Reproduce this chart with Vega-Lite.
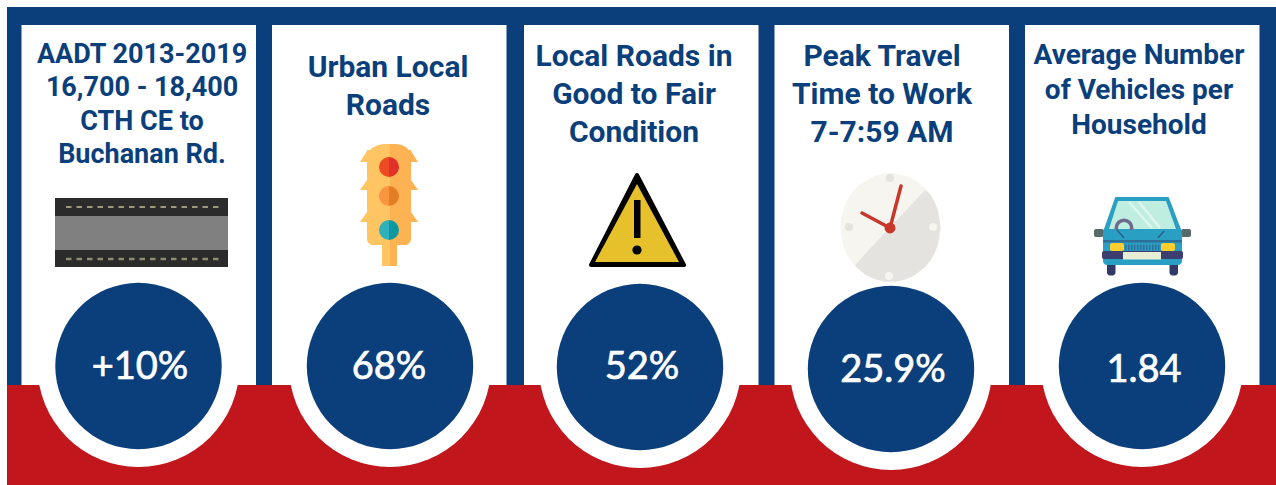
{"$schema":"https://vega.github.io/schema/vega-lite/v6.json","autosize":{"type":"fit","contains":"padding"},"width":1276,"height":485,"padding":0,"background":"white","config":{"view":{"stroke":null}},
"encoding":{"x":{"field":"x","type":"quantitative","scale":{"domain":[0,1276],"nice":false,"zero":false},"axis":null},"y":{"field":"y","type":"quantitative","scale":{"domain":[485,0],"nice":false,"zero":false},"axis":null}},
"layer":[
{"data":{"values":[{"part":"frame","x":7,"x2":1276,"y":7,"y2":385}]},"mark":{"type":"rect","color":"#0b3f7b"},"encoding":{"x2":{"field":"x2"},"y2":{"field":"y2"}}},
{"data":{"values":[{"card":"AADT","x":21.5,"x2":256,"y":25,"y2":385},{"card":"Urban","x":272,"x2":506.5,"y":25,"y2":385},{"card":"Local","x":524,"x2":758.5,"y":25,"y2":385},{"card":"Peak","x":774.5,"x2":1009,"y":25,"y2":385},{"card":"Vehicles","x":1025,"x2":1259.5,"y":25,"y2":385}]},"mark":{"type":"rect","color":"white"},"encoding":{"x2":{"field":"x2"},"y2":{"field":"y2"}}},
{"data":{"values":[{"part":"band","x":7,"x2":1276,"y":385,"y2":485}]},"mark":{"type":"rect","color":"#c0161c"},"encoding":{"x2":{"field":"x2"},"y2":{"field":"y2"}}},
{"data":{"values":[{"card":"AADT","x":138.5,"y":366},{"card":"Urban","x":390,"y":366},{"card":"Local","x":640,"y":367},{"card":"Peak","x":891,"y":369},{"card":"Vehicles","x":1142,"y":366}]},"mark":{"type":"circle","size":40804,"color":"white","opacity":1}},
{"data":{"values":[{"card":"AADT","x":138.5,"y":366},{"card":"Urban","x":390,"y":366},{"card":"Local","x":640,"y":367},{"card":"Peak","x":891,"y":369},{"card":"Vehicles","x":1142,"y":366}]},"mark":{"type":"circle","size":27700,"color":"#0b3f7b","opacity":1}},
{"data":{"values":[{"label":"+10%","x":140,"y":368},{"label":"68%","x":389,"y":368},{"label":"52%","x":642,"y":368},{"label":"25.9%","x":893,"y":371},{"label":"1.84","x":1144,"y":371}]},"mark":{"type":"text","font":"Lato","fontSize":38,"fontWeight":400,"color":"white","stroke":"white","strokeWidth":0.7,"align":"center","baseline":"middle"},"encoding":{"text":{"field":"label"}}},
{"data":{"values":[{"label":"AADT 2013-2019","x":142,"y":55},{"label":"16,700 - 18,400","x":142,"y":88},{"label":"CTH CE to","x":142,"y":122},{"label":"Buchanan Rd.","x":142,"y":155}]},"mark":{"type":"text","font":"Roboto","fontSize":27,"fontWeight":700,"color":"#0b3f7b","align":"center","baseline":"middle"},"encoding":{"text":{"field":"label"}}},
{"data":{"values":[{"label":"Urban Local","x":388,"y":68},{"label":"Roads","x":388,"y":106},{"label":"Local Roads in","x":634,"y":57},{"label":"Good to Fair","x":634,"y":95},{"label":"Condition","x":634,"y":133},{"label":"Peak Travel","x":882,"y":57},{"label":"Time to Work","x":882,"y":95},{"label":"7-7:59 AM","x":882,"y":133}]},"mark":{"type":"text","font":"Roboto","fontSize":30,"fontWeight":700,"color":"#0b3f7b","align":"center","baseline":"middle"},"encoding":{"text":{"field":"label"}}},
{"data":{"values":[{"label":"Average Number","x":1139,"y":56},{"label":"of Vehicles per","x":1139,"y":91},{"label":"Household","x":1139,"y":126}]},"mark":{"type":"text","font":"Roboto","fontSize":28,"fontWeight":700,"color":"#0b3f7b","align":"center","baseline":"middle"},"encoding":{"text":{"field":"label"}}},

{"data":{"values":[{"part":"asphalt","x":55,"x2":228,"y":198,"y2":267}]},"mark":{"type":"rect","color":"#2b2b2b"},"encoding":{"x2":{"field":"x2"},"y2":{"field":"y2"}}},
{"data":{"values":[{"part":"median","x":55,"x2":228,"y":216,"y2":250}]},"mark":{"type":"rect","color":"#808080"},"encoding":{"x2":{"field":"x2"},"y2":{"field":"y2"}}},
{"data":{"values":[{"lane":"top","x":66,"y":207},{"lane":"top","x":219,"y":207}]},"mark":{"type":"line","color":"#c4bf98","strokeWidth":1.5,"strokeDash":[5.5,5]},"encoding":{"detail":{"field":"lane"}}},
{"data":{"values":[{"lane":"bottom","x":66,"y":259},{"lane":"bottom","x":219,"y":259}]},"mark":{"type":"line","color":"#8f8c6c","strokeWidth":2.5,"strokeDash":[5.5,5]},"encoding":{"detail":{"field":"lane"}}},

{"data":{"values":[{"x":367,"x2":390,"y":150,"y2":245}]},"mark":{"type":"rect","color":"#ffc562","cornerRadiusBottomLeft":6},"encoding":{"x2":{"field":"x2"},"y2":{"field":"y2"}}},
{"data":{"values":[{"x":390,"x2":411,"y":150,"y2":245}]},"mark":{"type":"rect","color":"#fdb353","cornerRadiusBottomRight":6},"encoding":{"x2":{"field":"x2"},"y2":{"field":"y2"}}},
{"data":{"values":[{"x":382,"x2":390,"y":245,"y2":266}]},"mark":{"type":"rect","color":"#ffc562"},"encoding":{"x2":{"field":"x2"},"y2":{"field":"y2"}}},
{"data":{"values":[{"x":390,"x2":397,"y":245,"y2":266}]},"mark":{"type":"rect","color":"#fdb353"},"encoding":{"x2":{"field":"x2"},"y2":{"field":"y2"}}},
{"data":{"values":[{"x":367,"y":153,"y2":160},{"x":372,"y":148,"y2":160},{"x":378,"y":145,"y2":160},{"x":384,"y":144,"y2":160},{"x":390,"y":144,"y2":160}]},"mark":{"type":"area","color":"#ffc562"},"encoding":{"y2":{"field":"y2"}}},
{"data":{"values":[{"x":390,"y":144,"y2":160},{"x":396,"y":144,"y2":160},{"x":402,"y":145,"y2":160},{"x":407,"y":148,"y2":160},{"x":411,"y":153,"y2":160}]},"mark":{"type":"area","color":"#fdb353"},"encoding":{"y2":{"field":"y2"}}},
{"data":{"values":[{"wing":"a","x":360,"y":162,"y2":162},{"wing":"a","x":367,"y":151,"y2":162}]},"mark":{"type":"area","color":"#ffc562"},"encoding":{"y2":{"field":"y2"}}},
{"data":{"values":[{"wing":"b","x":360,"y":190,"y2":190},{"wing":"b","x":367,"y":180,"y2":190}]},"mark":{"type":"area","color":"#ffc562"},"encoding":{"y2":{"field":"y2"}}},
{"data":{"values":[{"wing":"c","x":360,"y":222,"y2":222},{"wing":"c","x":367,"y":212,"y2":222}]},"mark":{"type":"area","color":"#ffc562"},"encoding":{"y2":{"field":"y2"}}},
{"data":{"values":[{"wing":"a","x":411,"y":151,"y2":162},{"wing":"a","x":418,"y":162,"y2":162}]},"mark":{"type":"area","color":"#fdb353"},"encoding":{"y2":{"field":"y2"}}},
{"data":{"values":[{"wing":"b","x":411,"y":180,"y2":190},{"wing":"b","x":418,"y":190,"y2":190}]},"mark":{"type":"area","color":"#fdb353"},"encoding":{"y2":{"field":"y2"}}},
{"data":{"values":[{"wing":"c","x":411,"y":212,"y2":222},{"wing":"c","x":418,"y":222,"y2":222}]},"mark":{"type":"area","color":"#fdb353"},"encoding":{"y2":{"field":"y2"}}},
{"data":{"values":[{"lamp":"red","x":389,"y":167}]},"mark":{"type":"arc","theta":3.1416,"theta2":6.2832,"outerRadius":10,"color":"#ee4a24"}},
{"data":{"values":[{"lamp":"red","x":389,"y":167}]},"mark":{"type":"arc","theta":0,"theta2":3.1416,"outerRadius":10,"color":"#e2302a"}},
{"data":{"values":[{"lamp":"amber","x":389,"y":196}]},"mark":{"type":"arc","theta":3.1416,"theta2":6.2832,"outerRadius":10,"color":"#f9943f"}},
{"data":{"values":[{"lamp":"amber","x":389,"y":196}]},"mark":{"type":"arc","theta":0,"theta2":3.1416,"outerRadius":10,"color":"#e47e25"}},
{"data":{"values":[{"lamp":"green","x":389,"y":230}]},"mark":{"type":"arc","theta":3.1416,"theta2":6.2832,"outerRadius":10,"color":"#2fb0bd"}},
{"data":{"values":[{"lamp":"green","x":389,"y":230}]},"mark":{"type":"arc","theta":0,"theta2":3.1416,"outerRadius":10,"color":"#0c98a0"}},

{"data":{"values":[{"x":591,"y":265,"y2":265},{"x":637,"y":175,"y2":265},{"x":684,"y":265,"y2":265}]},"mark":{"type":"area","color":"#000000","stroke":"#000000","strokeWidth":4,"strokeJoin":"round"},"encoding":{"y2":{"field":"y2"}}},
{"data":{"values":[{"x":595,"y":262,"y2":262},{"x":637,"y":184,"y2":262},{"x":679,"y":262,"y2":262}]},"mark":{"type":"area","color":"#e6c12c"},"encoding":{"y2":{"field":"y2"}}},
{"data":{"values":[{"x":634,"x2":640.5,"y":200,"y2":238}]},"mark":{"type":"rect","color":"#000000"},"encoding":{"x2":{"field":"x2"},"y2":{"field":"y2"}}},
{"data":{"values":[{"x":637,"y":250}]},"mark":{"type":"circle","size":85,"color":"#000000","opacity":1}},

{"data":{"values":[{"x":840.5,"y":227.5,"y2":227.5},{"x":841.5,"y":216.7,"y2":238.3},{"x":843.5,"y":208.9,"y2":246.1},{"x":846.5,"y":201.6,"y2":253.4},{"x":850.5,"y":194.8,"y2":260.2},{"x":856.5,"y":187.5,"y2":267.5},{"x":864.5,"y":180.9,"y2":274.1},{"x":874.5,"y":175.9,"y2":279.1},{"x":884.5,"y":173.4,"y2":281.6},{"x":890.5,"y":173,"y2":282},{"x":896.5,"y":173.4,"y2":281.6},{"x":906.5,"y":175.9,"y2":279.1},{"x":916.5,"y":180.9,"y2":274.1},{"x":924.5,"y":187.5,"y2":267.5},{"x":930.5,"y":194.8,"y2":260.2},{"x":934.5,"y":201.6,"y2":253.4},{"x":937.5,"y":208.9,"y2":246.1},{"x":939.5,"y":216.7,"y2":238.3},{"x":940.5,"y":227.5,"y2":227.5}]},"mark":{"type":"area","color":"#f6f5ef"},"encoding":{"y2":{"field":"y2"}}},
{"data":{"values":[{"x":855,"y":265.5,"y2":265.9},{"x":865,"y":254.3,"y2":274.4},{"x":875,"y":243.6,"y2":279.3},{"x":885,"y":232.8,"y2":281.7},{"x":895,"y":222.1,"y2":281.8},{"x":905,"y":211.4,"y2":279.7},{"x":915,"y":200.7,"y2":275},{"x":925,"y":190,"y2":267},{"x":930,"y":194.1,"y2":260.9},{"x":935,"y":202.7,"y2":252.3},{"x":938,"y":210.5,"y2":244.5},{"x":940.5,"y":227.5,"y2":227.5}]},"mark":{"type":"area","color":"#e4e3df"},"encoding":{"y2":{"field":"y2"}}},
{"data":{"values":[{"x":890,"y":178},{"x":849,"y":227}]},"mark":{"type":"circle","size":64,"color":"#e4e3df","opacity":1}},
{"data":{"values":[{"x":933,"y":227},{"x":889,"y":276}]},"mark":{"type":"circle","size":64,"color":"#f6f5ef","opacity":1}},
{"data":{"values":[{"hand":"minute","x":890,"y":228},{"hand":"minute","x":901,"y":186}]},"mark":{"type":"line","color":"#c8372a","strokeWidth":3.5,"strokeCap":"round"},"encoding":{"detail":{"field":"hand"}}},
{"data":{"values":[{"hand":"hour","x":890,"y":228},{"hand":"hour","x":862,"y":213}]},"mark":{"type":"line","color":"#c8372a","strokeWidth":3.5,"strokeCap":"round"},"encoding":{"detail":{"field":"hand"}}},
{"data":{"values":[{"x":890,"y":228}]},"mark":{"type":"circle","size":120,"color":"#c8372a","opacity":1}},

{"data":{"values":[{"x":1094,"x2":1104,"y":229,"y2":237},{"x":1181,"x2":1191,"y":229,"y2":237}]},"mark":{"type":"rect","color":"#566a6c","cornerRadius":2},"encoding":{"x2":{"field":"x2"},"y2":{"field":"y2"}}},
{"data":{"values":[{"x":1107,"x2":1115.5,"y":260,"y2":275.5},{"x":1169.5,"x2":1178,"y":260,"y2":275.5}]},"mark":{"type":"rect","color":"#2f3a66","cornerRadius":3},"encoding":{"x2":{"field":"x2"},"y2":{"field":"y2"}}},
{"data":{"values":[{"x":1104,"y":232,"y2":232},{"x":1116,"y":198,"y2":232},{"x":1168,"y":198,"y2":232},{"x":1181,"y":232,"y2":232}]},"mark":{"type":"area","color":"#2a9fc4","stroke":"#2a9fc4","strokeWidth":2,"strokeJoin":"round"},"encoding":{"y2":{"field":"y2"}}},
{"data":{"values":[{"x":1109,"y":229,"y2":229},{"x":1118,"y":201,"y2":229},{"x":1166,"y":201,"y2":229},{"x":1176,"y":229,"y2":229}]},"mark":{"type":"area","color":"#bfeee0"},"encoding":{"y2":{"field":"y2"}}},
{"data":{"values":[{"s":"a","x":1129,"y":202},{"s":"a","x":1152,"y":228},{"s":"b","x":1139,"y":202},{"s":"b","x":1160,"y":228}]},"mark":{"type":"line","color":"#dff6ee","strokeWidth":2.5},"encoding":{"detail":{"field":"s"}}},
{"data":{"values":[{"x":1124,"y":228}]},"mark":{"type":"arc","theta":0,"theta2":6.2832,"innerRadius":6,"outerRadius":9.5,"color":"#6d6a8e"}},
{"data":{"values":[{"x":1103,"x2":1182,"y":230,"y2":265}]},"mark":{"type":"rect","color":"#2a9fc4","cornerRadius":4},"encoding":{"x2":{"field":"x2"},"y2":{"field":"y2"}}},
{"data":{"values":[{"x":1103,"x2":1182,"y":240,"y2":242.5}]},"mark":{"type":"rect","color":"#2c6f98"},"encoding":{"x2":{"field":"x2"},"y2":{"field":"y2"}}},
{"data":{"values":[{"x":1110,"x2":1124,"y":243,"y2":251},{"x":1161,"x2":1175,"y":243,"y2":251}]},"mark":{"type":"rect","color":"#fdce2d","cornerRadius":2},"encoding":{"x2":{"field":"x2"},"y2":{"field":"y2"}}},
{"data":{"values":[{"x":1125,"y":247.5},{"x":1160,"y":247.5}]},"mark":{"type":"line","color":"#2f6f9c","strokeWidth":6,"strokeDash":[1.5,1.5]},"encoding":{}},
{"data":{"values":[{"x":1102,"x2":1183,"y":251,"y2":259}]},"mark":{"type":"rect","color":"#3d3e70","cornerRadius":2},"encoding":{"x2":{"field":"x2"},"y2":{"field":"y2"}}},
{"data":{"values":[{"x":1123,"x2":1161,"y":252,"y2":259.5}]},"mark":{"type":"rect","color":"#e8edd5"},"encoding":{"x2":{"field":"x2"},"y2":{"field":"y2"}}},
{"data":{"values":[{"s":"a","x":1117,"y":230},{"s":"a","x":1124,"y":238},{"s":"b","x":1164,"y":231},{"s":"b","x":1158,"y":238}]},"mark":{"type":"line","color":"#2c5f88","strokeWidth":1.5},"encoding":{"detail":{"field":"s"}}}
]}
